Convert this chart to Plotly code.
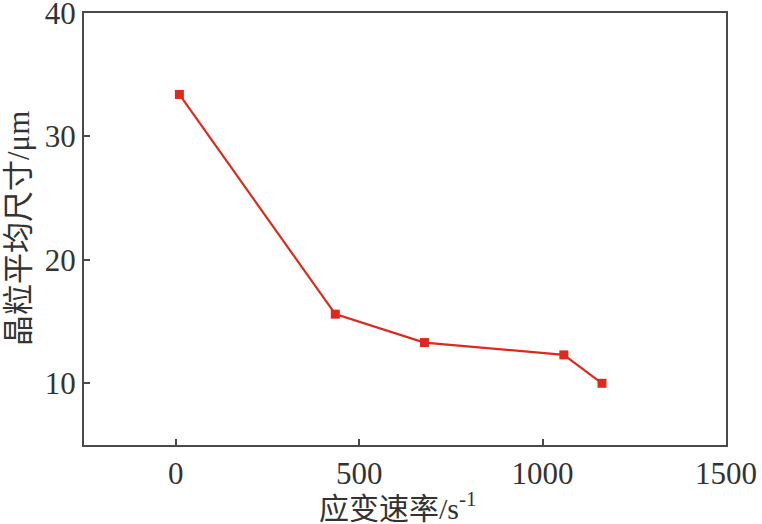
import plotly.graph_objects as go

# strain rate (s^-1) vs. mean grain size (um)
strain_rate = [10, 435, 678, 1058, 1162]
grain_size = [33.4, 15.6, 13.3, 12.3, 10.0]

x_ticks = [0, 500, 1000, 1500]
y_ticks = [10, 20, 30, 40]

RED = "#dc2a1c"
AXIS = "#4a4a4a"
INK = "#333333"
FONT = "Liberation Serif, Noto Sans CJK SC, serif"

W, H = 762, 524
M = dict(l=84, r=36, t=13, b=79)
plot_w = W - M["l"] - M["r"]
plot_h = H - M["t"] - M["b"]

fig = go.Figure()
fig.add_trace(go.Scatter(
    x=strain_rate, y=grain_size, mode="lines+markers",
    line=dict(color=RED, width=2.2),
    marker=dict(symbol="square", size=9, color=RED),
    showlegend=False,
))

axis_common = dict(
    showline=True, mirror=True, linecolor=AXIS, linewidth=2,
    showgrid=False, zeroline=False, automargin=False,
    ticks="inside", ticklen=6, tickwidth=1.5, tickcolor=AXIS,
    tickfont=dict(family=FONT, size=31, color=INK),
    ticklabeloverflow="allow",
)

fig.update_xaxes(range=[-250, 1500], tickvals=x_ticks, ticklabelstandoff=0, **axis_common)
fig.update_yaxes(range=[5, 40], tickvals=y_ticks, ticklabelstandoff=0, **axis_common)

# axis titles as annotations so they sit where the reference has them
fig.add_annotation(
    text="应变速率/s<sup>-1</sup>", xref="paper", yref="paper",
    x=0.5 - 7 / plot_w, y=-61 / plot_h, xanchor="center", yanchor="middle",
    showarrow=False, font=dict(family=FONT, size=30, color=INK),
)
fig.add_annotation(
    text="晶粒平均尺寸/μm", xref="paper", yref="paper",
    x=-66 / plot_w, y=0.5, xanchor="center", yanchor="middle", textangle=-90,
    showarrow=False, font=dict(family=FONT, size=31, color=INK),
)

fig.update_layout(
    width=W, height=H, margin=M,
    paper_bgcolor="white", plot_bgcolor="white",
    font=dict(family=FONT, color=INK),
)

# drop the default 8px page margin so the figure fills the window
fig.write_html("out.html", config={"displayModeBar": False},
               post_script="document.body.style.margin='0';")
